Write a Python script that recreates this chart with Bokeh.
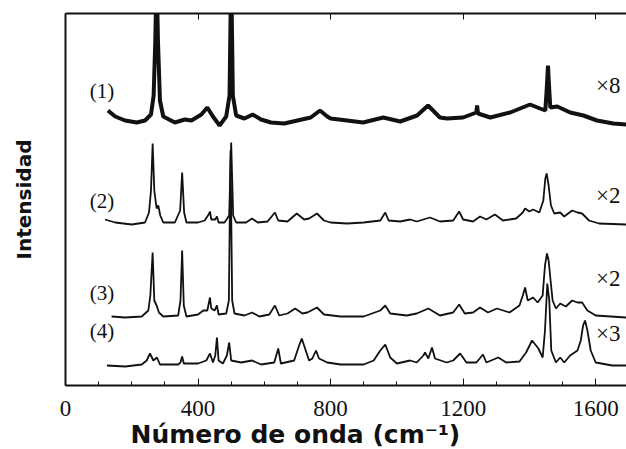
import math
from bokeh.plotting import figure
from bokeh.models import Range1d, LinearAxis, FixedTicker, Label, Title
from bokeh.embed import file_html
from bokeh.resources import INLINE

# ---- data (wavenumber cm-1, relative intensity) ----
wn1 = [128, 150, 180, 215, 240, 258, 266, 271, 275, 279, 285, 295, 330, 360, 380, 410, 428, 445, 465, 485,
       495, 500, 505, 515, 540, 565, 590, 620, 660, 700, 740, 768, 790, 800, 850, 898, 959, 1010, 1061,
       1094, 1130, 1151, 1200, 1240, 1242, 1245, 1282, 1342, 1402, 1432, 1448, 1452, 1456, 1460, 1463,
       1484, 1523, 1563, 1604, 1653, 1692]
int1 = [275, 269, 265, 263, 265, 271, 290, 345, 415, 345, 285, 269, 263, 266, 265, 271, 278, 269, 260, 269,
        290, 415, 290, 270, 267, 271, 266, 263, 262, 265, 268, 275, 269, 267, 265, 263, 268, 264, 270,
        280, 268, 267, 268, 273, 280, 272, 268, 273, 281, 277, 275, 295, 320, 295, 278,
        279, 273, 270, 265, 262, 261]

wn2 = [119, 150, 200, 240, 252, 258, 263, 268, 275, 280, 286, 295, 330, 346, 352, 358, 365, 400, 420, 432,
       436, 440, 452, 457, 462, 480, 494, 500, 506, 515, 545, 563, 580, 610, 632, 642, 670, 698, 720, 735,
       759, 780, 800, 850, 900, 950, 965, 975, 1010, 1040, 1060, 1100, 1130, 1170, 1188, 1200, 1230, 1251,
       1270, 1296, 1320, 1360, 1380, 1387, 1400, 1411, 1430, 1442, 1448, 1452, 1458, 1465, 1475, 1493,
       1505, 1529, 1545, 1559, 1580, 1610, 1692]
int2 = [166, 163, 161, 163, 173, 195, 242, 195, 177, 180, 170, 163, 163, 175, 213, 173, 163, 163, 165, 171,
        174, 166, 166, 169, 163, 163, 170, 243, 170, 163, 163, 167, 163, 164, 173, 165, 164, 172, 166, 167,
        172, 165, 163, 162, 163, 165, 173, 165, 164, 166, 164, 168, 164, 165, 174, 166, 164, 169,
        166, 171, 165, 167, 173, 177, 174, 176, 173, 185, 207, 212, 200, 180, 172, 173,
        169, 175, 173, 172, 165, 162, 161]

wn3 = [139, 180, 230, 250, 256, 263, 268, 275, 282, 295, 340, 347, 352, 357, 365, 400, 416, 428, 436, 440,
       450, 457, 462, 485, 493, 498, 503, 510, 540, 563, 585, 615, 632, 645, 670, 693, 715, 730, 759, 780,
       830, 900, 950, 965, 980, 1030, 1060, 1095, 1130, 1170, 1188, 1205, 1230, 1251, 1275, 1302, 1340,
       1370, 1380, 1387, 1395, 1411, 1425, 1440, 1447, 1453, 1458, 1463, 1470, 1480, 1493, 1510, 1529,
       1545, 1559, 1575, 1600, 1692]
int3 = [69, 68, 69, 75, 90, 133, 85, 80, 73, 69, 70, 85, 135, 80, 69, 71, 75, 75, 88, 77,
        75, 80, 71, 72, 85, 235, 85, 72, 70, 73, 69, 71, 80, 70, 72, 77, 72, 73, 78, 71,
        69, 69, 75, 80, 72, 70, 72, 77, 70, 73, 81, 72, 73, 78, 73, 77, 73,
        80, 90, 98, 85, 88, 83, 90, 120, 132, 125, 108, 85, 77, 82, 79, 85,
        83, 83, 75, 70, 68]

wn4 = [125, 180, 230, 245, 255, 265, 276, 285, 340, 347, 352, 357, 400, 425, 436, 445, 452, 457, 462, 475,
       487, 494, 500, 530, 563, 590, 630, 642, 650, 690, 705, 713, 720, 735, 745, 756, 765, 790, 830, 900,
       930, 950, 965, 980, 1000, 1040, 1060, 1080, 1085, 1095, 1106, 1115, 1150, 1170, 1191, 1210, 1240,
       1260, 1270, 1306, 1330, 1370, 1390, 1408, 1420, 1427, 1440, 1447, 1454, 1460, 1466, 1480, 1493,
       1505, 1523, 1545, 1555, 1562, 1568, 1575, 1585, 1600, 1650, 1692]
int4 = [20, 19, 21, 25, 32, 25, 28, 21, 21, 23, 29, 22, 22, 25, 32, 23, 30, 48, 25, 22,
        30, 43, 25, 23, 25, 21, 23, 37, 22, 25, 40, 47, 40, 25, 27, 35, 27, 23, 21, 21,
        25, 35, 41, 28, 22, 25, 23, 30, 33, 27, 38, 27, 23, 25, 32, 23, 23,
        31, 23, 28, 23, 24, 33, 45, 40, 37, 28, 55, 102, 85, 35, 23, 28,
        23, 30, 35, 45, 60, 65, 55, 35, 23, 20, 20]

series_labels = ["(1)", "(2)", "(3)", "(4)"]
label_pos_y = [295, 185, 93, 55]
scale_labels = ["\u00d78", "\u00d72", "\u00d72", "\u00d73"]
scale_pos_y = [300, 190, 107, 52]
x_ticks = [0, 400, 800, 1200, 1600]
x_minor = list(range(0, 1700, 100))
x_title = "Número de onda (cm\u207b\u00b9)"
y_title = "Intensidad"

p = figure(width=626, height=449, output_backend="svg", toolbar_location=None,
           x_range=Range1d(0, 1693), y_range=Range1d(0, 372),
           min_border_left=65, min_border_right=0, min_border_top=13, min_border_bottom=64,
           x_axis_location="below", y_axis_location="left")
p.outline_line_color = None
p.grid.visible = False
p.background_fill_color = "white"
p.border_fill_color = "white"

col = "#111111"
p.line(wn1, int1, line_color=col, line_width=4)
p.line(wn2, int2, line_color=col, line_width=1.8)
p.line(wn3, int3, line_color=col, line_width=1.8)
p.line(wn4, int4, line_color=col, line_width=1.8)

# bottom axis
xa = p.xaxis[0]
xa.ticker = FixedTicker(ticks=x_ticks, minor_ticks=x_minor)
xa.major_tick_in = 7
xa.major_tick_out = 0
xa.minor_tick_in = 4
xa.minor_tick_out = 0
xa.axis_line_width = 2
xa.axis_line_color = col
xa.major_tick_line_color = col
xa.minor_tick_line_color = col
xa.major_label_text_font = "Liberation Serif"
xa.major_label_text_font_size = "23px"
xa.major_label_text_color = col
xa.major_label_standoff = 15

# left axis: plain line with the title
ya = p.yaxis[0]
ya.ticker = FixedTicker(ticks=[])
ya.major_tick_in = 0
ya.major_tick_out = 0
ya.minor_tick_line_color = None
ya.major_tick_line_color = None
ya.major_label_standoff = 0
ya.axis_line_width = 2
ya.axis_line_color = col
ya.axis_label = y_title
ya.axis_label_text_font = "DejaVu Sans"
ya.axis_label_text_font_style = "bold"
ya.axis_label_text_font_size = "20px"
ya.axis_label_text_color = col
ya.axis_label_standoff = 30

# top axis: ticks only
ta = LinearAxis(ticker=FixedTicker(ticks=x_ticks))
ta.major_tick_in = 6
ta.major_tick_out = 0
ta.minor_tick_line_color = None
ta.major_label_overrides = {t: "" for t in x_ticks}
ta.major_label_standoff = 0
ta.axis_line_width = 2
ta.axis_line_color = col
ta.major_tick_line_color = col
p.add_layout(ta, "above")

for t, yv in zip(series_labels, label_pos_y):
    p.add_layout(Label(x=110, y=yv, text=t, text_font="Liberation Serif", text_font_size="21px",
                       text_align="center", text_baseline="middle", text_color=col))
for t, yv in zip(scale_labels, scale_pos_y):
    p.add_layout(Label(x=1638, y=yv, text=t, text_font="Liberation Serif", text_font_size="23px",
                       text_align="center", text_baseline="middle", text_color=col))

t1 = Title(text=x_title, align="left", offset=65, standoff=-1,
           text_font="DejaVu Sans", text_font_style="bold", text_font_size="25px", text_color=col)
p.add_layout(t1, "below")

open("out.html", "w").write(file_html(p, INLINE))
